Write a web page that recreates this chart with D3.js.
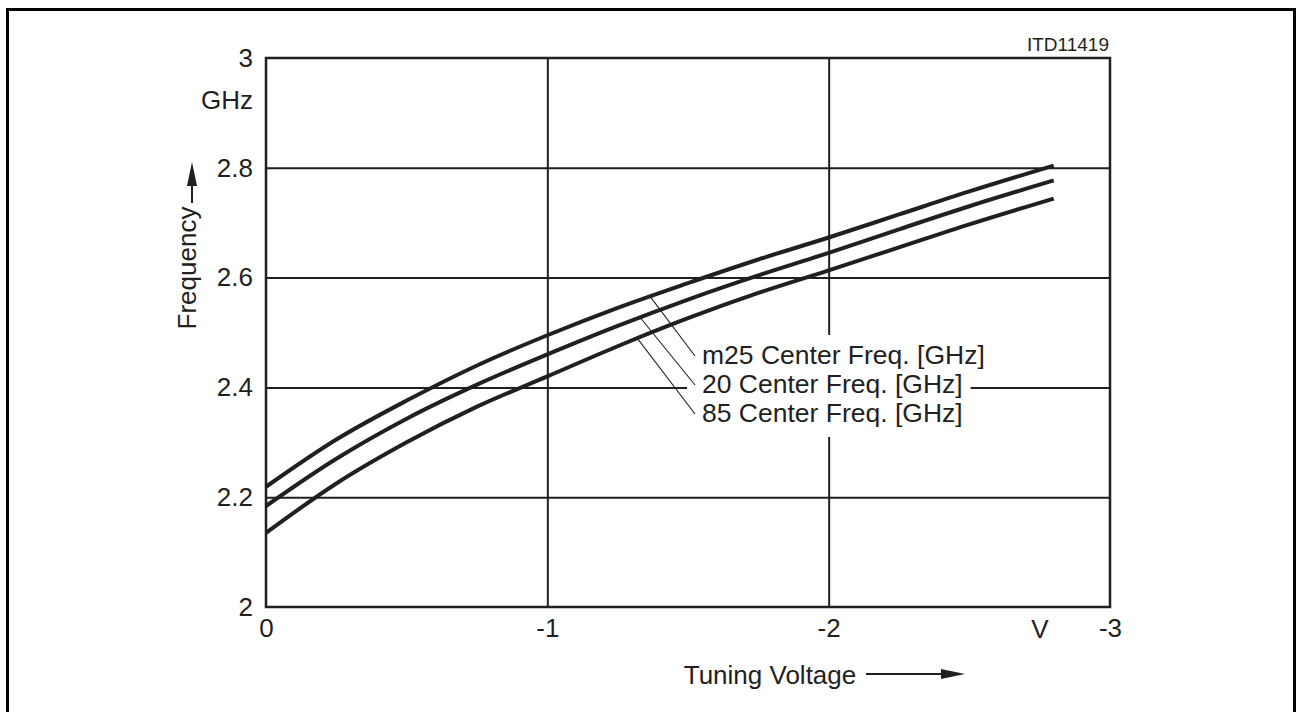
<!DOCTYPE html>
<html>
<head>
<meta charset="utf-8">
<script src="https://cdn.jsdelivr.net/npm/d3@7"></script>
<style>
body { margin: 0; background: #fff; }
svg { display: block; }
text { font-family: "Liberation Sans", Arial, Helvetica, sans-serif; fill: #231f20; }
</style>
</head>
<body>
<div id="chart"></div>
<script>
// tuning voltage (V) and center frequency (GHz)
var voltage = [0, -0.25, -0.5, -0.75, -1, -1.25, -1.5, -1.75, -2, -2.25, -2.5, -2.8];
var freqM25 = [2.219, 2.305, 2.376, 2.44, 2.495, 2.545, 2.59, 2.633, 2.673, 2.715, 2.757, 2.804];
var freq20  = [2.184, 2.27, 2.343, 2.405, 2.46, 2.512, 2.56, 2.604, 2.645, 2.688, 2.73, 2.777];
var freq85  = [2.135, 2.225, 2.30, 2.365, 2.42, 2.475, 2.526, 2.572, 2.613, 2.655, 2.697, 2.744];
var seriesNames = ["m25 Center Freq. [GHz]", "20 Center Freq. [GHz]", "85 Center Freq. [GHz]"];
// voltage where each leader line touches its curve
var leaderAt = [-1.365, -1.33, -1.32];
var xTicks = [0, -1, -2, -3];
var yTicks = [2, 2.2, 2.4, 2.6, 2.8, 3];

(function() {
	var W = 1297, H = 712;
	var ink = "#231f20";
	// plot area (window.top is reserved, so keep these local)
	var pL = 266, pR = 1110, pT = 58, pB = 607;

	var svg = d3.select("#chart").append("svg")
		.attr("width", W)
		.attr("height", H);

	// outer border
	svg.append("rect")
		.attr("x", 7.5).attr("y", 9.5)
		.attr("width", 1287).attr("height", 720)
		.attr("fill", "none")
		.attr("stroke", "#000")
		.attr("stroke-width", 3);

	var x = d3.scaleLinear().domain([0, -3]).range([pL, pR]);
	var y = d3.scaleLinear().domain([2, 3]).range([pB, pT]);

	// grid
	svg.append("g")
		.attr("transform", "translate(0," + pB + ")")
		.call(d3.axisBottom(x).tickValues([-1, -2]).tickSize(-(pB - pT)).tickFormat(""))
		.call(function(g) { g.select(".domain").remove(); })
		.selectAll("line").attr("stroke", ink).attr("stroke-width", 2);
	svg.append("g")
		.attr("transform", "translate(" + pL + ",0)")
		.call(d3.axisLeft(y).tickValues([2.2, 2.4, 2.6, 2.8]).tickSize(-(pR - pL)).tickFormat(""))
		.call(function(g) { g.select(".domain").remove(); })
		.selectAll("line").attr("stroke", ink).attr("stroke-width", 2);

	svg.append("rect")
		.attr("x", pL).attr("y", pT)
		.attr("width", pR - pL).attr("height", pB - pT)
		.attr("fill", "none")
		.attr("stroke", ink)
		.attr("stroke-width", 2.5);

	// tick labels
	var yAx = svg.append("g")
		.attr("transform", "translate(" + pL + ",0)")
		.call(d3.axisLeft(y).tickValues(yTicks).tickSize(0).tickPadding(13)
			.tickFormat(function(d) { return String(+d.toFixed(1)); }));
	yAx.select(".domain").remove();
	yAx.selectAll("text").attr("font-size", 26).attr("font-family", null).attr("fill", ink);

	var xAx = svg.append("g")
		.attr("transform", "translate(0," + pB + ")")
		.call(d3.axisBottom(x).tickValues(xTicks).tickSize(0).tickPadding(12)
			.tickFormat(function(d) { return d === 0 ? "0" : String(d); }));
	xAx.select(".domain").remove();
	xAx.selectAll("text").attr("font-size", 26).attr("font-family", null).attr("fill", ink);

	svg.append("text").attr("x", 253).attr("y", 109).attr("text-anchor", "end")
		.attr("font-size", 26).text("GHz");
	svg.append("text").attr("x", 1040).attr("y", 638).attr("text-anchor", "middle")
		.attr("font-size", 26).text("V");
	svg.append("text").attr("x", 1109).attr("y", 51).attr("text-anchor", "end")
		.attr("font-size", 19).text("ITD11419");

	// white boxes behind the series labels (they break the grid)
	var textX = 702, baselines = [364, 393, 422];
	var boxes = svg.append("g");

	// curves
	var line = d3.line()
		.x(function(d) { return x(d[0]); })
		.y(function(d) { return y(d[1]); })
		.curve(d3.curveMonotoneX);
	var series = [freqM25, freq20, freq85];
	series.forEach(function(s) {
		svg.append("path")
			.datum(voltage.map(function(v, i) { return [v, s[i]]; }))
			.attr("fill", "none")
			.attr("stroke", ink)
			.attr("stroke-width", 4)
			.attr("d", line);
	});

	// labels and leaders
	var labels = svg.append("g");
	seriesNames.forEach(function(name, i) {
		var t = labels.append("text")
			.attr("x", textX).attr("y", baselines[i])
			.attr("font-size", 26.5)
			.text(name);
		var len = t.node().getComputedTextLength();
		boxes.append("rect")
			.attr("x", textX - 15).attr("y", baselines[i] - 29)
			.attr("width", len + 23).attr("height", 44)
			.attr("fill", "#fff");
		var f = d3.scaleLinear().domain(voltage).range(series[i]);
		svg.append("line")
			.attr("x1", x(leaderAt[i])).attr("y1", y(f(leaderAt[i])))
			.attr("x2", textX - 7).attr("y2", baselines[i] - 8)
			.attr("stroke", ink)
			.attr("stroke-width", 1.1);
	});

	// axis titles with arrows
	svg.append("text")
		.attr("transform", "translate(196,268) rotate(-90)")
		.attr("text-anchor", "middle")
		.attr("font-size", 26)
		.text("Frequency");
	svg.append("line")
		.attr("x1", 192).attr("y1", 203).attr("x2", 192).attr("y2", 180)
		.attr("stroke", ink).attr("stroke-width", 2);
	svg.append("path")
		.attr("d", "M192,162 L197,186 L187,186 Z")
		.attr("fill", ink);

	svg.append("text")
		.attr("x", 770).attr("y", 684)
		.attr("text-anchor", "middle")
		.attr("font-size", 26)
		.text("Tuning Voltage");
	svg.append("line")
		.attr("x1", 866).attr("y1", 674).attr("x2", 945).attr("y2", 674)
		.attr("stroke", ink).attr("stroke-width", 2);
	svg.append("path")
		.attr("d", "M965,674 L941,669 L941,679 Z")
		.attr("fill", ink);
})();
</script>
</body>
</html>
